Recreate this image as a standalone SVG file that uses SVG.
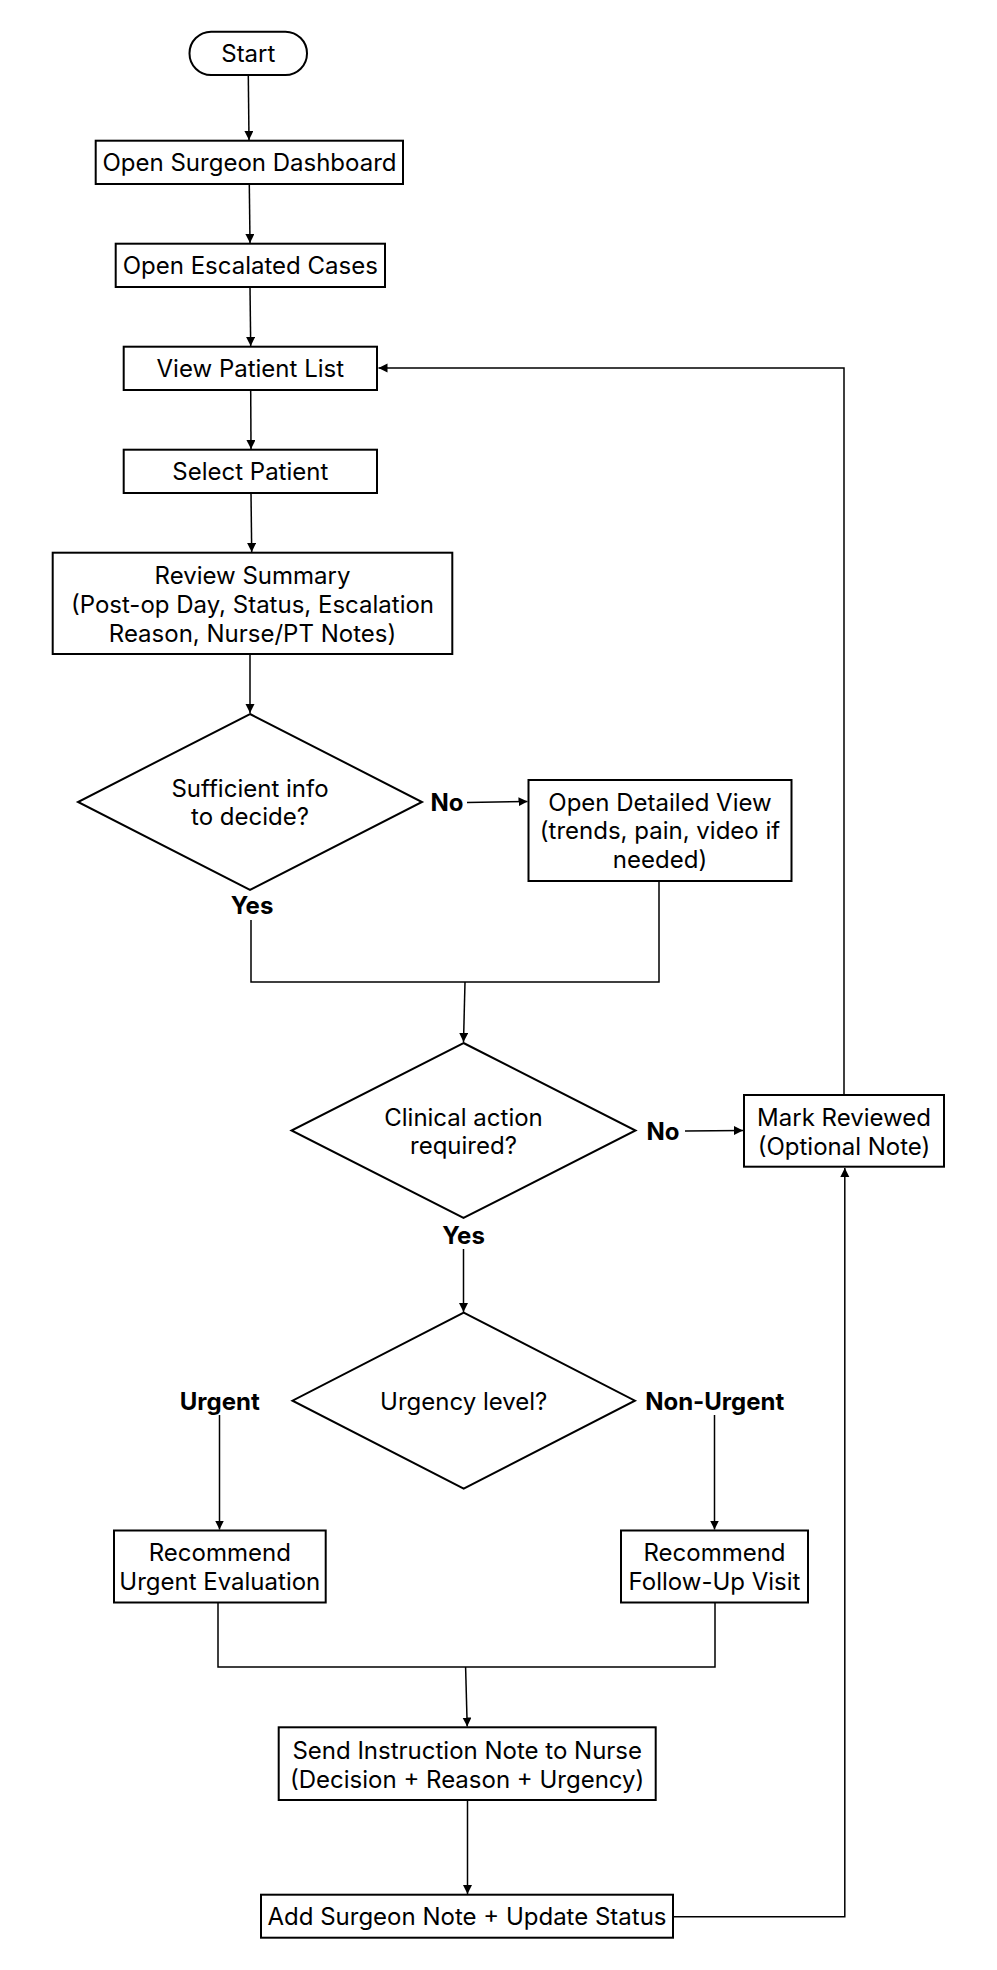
<svg xmlns="http://www.w3.org/2000/svg" width="997" height="1970" viewBox="0 0 997 1970">
<style>
.box{fill:#fff;stroke:#000;stroke-width:2}
.t{font-family:Inter,"Liberation Sans",sans-serif;font-size:24px;fill:#000;text-anchor:middle}
.b{font-weight:700}
.c{fill:none;stroke:#000;stroke-width:1.5}
</style>
<defs>
<marker id="ah" markerUnits="userSpaceOnUse" markerWidth="10" markerHeight="10" refX="9" refY="4.5" orient="auto">
<path d="M0,0 L9,4.5 L0,9 z" fill="#000"/>
</marker>
</defs>
<rect width="997" height="1970" fill="#fff"/>
<g id="connectors">
<path class="c" d="M248.3,75.5 L249,140" marker-end="url(#ah)"/>
<path class="c" d="M249.3,184 L250,243" marker-end="url(#ah)"/>
<path class="c" d="M250,287 L250.7,346" marker-end="url(#ah)"/>
<path class="c" d="M250.7,390 L251,449" marker-end="url(#ah)"/>
<path class="c" d="M251,493 L251.7,552" marker-end="url(#ah)"/>
<path class="c" d="M250,654 L250,713" marker-end="url(#ah)"/>
<path class="c" d="M467,802.5 L527.5,801.5" marker-end="url(#ah)"/>
<path class="c" d="M251,920 L251,982 L659,982 L659,881"/>
<path class="c" d="M465,982 L463.5,1042" marker-end="url(#ah)"/>
<path class="c" d="M685,1131 L743,1130.5" marker-end="url(#ah)"/>
<path class="c" d="M844,1095 L844,368 L378.5,368" marker-end="url(#ah)"/>
<path class="c" d="M463.5,1249 L463.5,1312" marker-end="url(#ah)"/>
<path class="c" d="M219.5,1415 L219.5,1529.5" marker-end="url(#ah)"/>
<path class="c" d="M714.5,1415 L714.5,1529.5" marker-end="url(#ah)"/>
<path class="c" d="M218,1603 L218,1667 L715,1667 L715,1603"/>
<path class="c" d="M465.6,1667 L467.2,1726.5" marker-end="url(#ah)"/>
<path class="c" d="M467.5,1800 L467.5,1894" marker-end="url(#ah)"/>
<path class="c" d="M673,1916.7 L844.8,1916.7 L844.8,1168" marker-end="url(#ah)"/>
</g>
<g id="labels">
<text class="t b" x="447" y="811">No</text>
<text class="t b" x="252" y="914">Yes</text>
<text class="t b" x="663" y="1139.5">No</text>
<text class="t b" x="463.5" y="1243.5">Yes</text>
<text class="t b" x="219.7" y="1410">Urgent</text>
<text class="t b" x="714.7" y="1410">Non-Urgent</text>
</g>
<g id="start">
<rect class="box" x="189.5" y="31.7" width="117.5" height="43.3" rx="21.6"/>
<text class="t" x="248.3" y="62">Start</text>
</g>
<g id="dashboard">
<rect class="box" x="95.7" y="140.7" width="307.3" height="43.3"/>
<text class="t" x="249.5" y="171.4">Open Surgeon Dashboard</text>
</g>
<g id="escalated">
<rect class="box" x="115.7" y="243.7" width="269.3" height="43.3"/>
<text class="t" x="250.3" y="274.4">Open Escalated Cases</text>
</g>
<g id="patientList">
<rect class="box" x="123.7" y="346.7" width="253.3" height="43.3"/>
<text class="t" x="250.3" y="377.4">View Patient List</text>
</g>
<g id="selectPatient">
<rect class="box" x="123.7" y="449.7" width="253.3" height="43.3"/>
<text class="t" x="250.3" y="480.4">Select Patient</text>
</g>
<g id="reviewSummary">
<rect class="box" x="52.7" y="552.7" width="399.6" height="101.3"/>
<text class="t" x="252.5" y="583.7">Review Summary</text>
<text class="t" x="252.5" y="612.5">(Post-op Day, Status, Escalation</text>
<text class="t" x="252.5" y="641.5">Reason, Nurse/PT Notes)</text>
</g>
<g id="sufficientInfo">
<polygon class="box" points="250,714 422,802 250,890 78,802"/>
<text class="t" x="250" y="796.7">Sufficient info</text>
<text class="t" x="250" y="825">to decide?</text>
</g>
<g id="detailedView">
<rect class="box" x="528.5" y="780" width="263" height="101"/>
<text class="t" x="660" y="810.7">Open Detailed View</text>
<text class="t" x="660" y="839">(trends, pain, video if</text>
<text class="t" x="660" y="867.7">needed)</text>
</g>
<g id="clinicalAction">
<polygon class="box" points="463.5,1043 635.5,1130.5 463.5,1218 291.5,1130.5"/>
<text class="t" x="463.5" y="1125.7">Clinical action</text>
<text class="t" x="463.5" y="1154.3">required?</text>
</g>
<g id="markReviewed">
<rect class="box" x="744" y="1095" width="200" height="71.7"/>
<text class="t" x="844" y="1125.7">Mark Reviewed</text>
<text class="t" x="844" y="1154.5">(Optional Note)</text>
</g>
<g id="urgencyLevel">
<polygon class="box" points="463.7,1312.7 634.9,1400.7 463.7,1488.7 292.5,1400.7"/>
<text class="t" x="463.7" y="1409.7">Urgency level?</text>
</g>
<g id="urgentEval">
<rect class="box" x="114" y="1530.5" width="211.7" height="72"/>
<text class="t" x="219.8" y="1561">Recommend</text>
<text class="t" x="219.8" y="1590.3">Urgent Evaluation</text>
</g>
<g id="followUp">
<rect class="box" x="621" y="1530.5" width="187" height="72"/>
<text class="t" x="714.5" y="1561">Recommend</text>
<text class="t" x="714.5" y="1590.3">Follow-Up Visit</text>
</g>
<g id="sendNote">
<rect class="box" x="278.7" y="1727.3" width="377" height="72.7"/>
<text class="t" x="467.2" y="1758.7">Send Instruction Note to Nurse</text>
<text class="t" x="467.2" y="1787.7">(Decision + Reason + Urgency)</text>
</g>
<g id="addNote">
<rect class="box" x="261" y="1894.7" width="412" height="43"/>
<text class="t" x="467" y="1925.4">Add Surgeon Note + Update Status</text>
</g>
</svg>
